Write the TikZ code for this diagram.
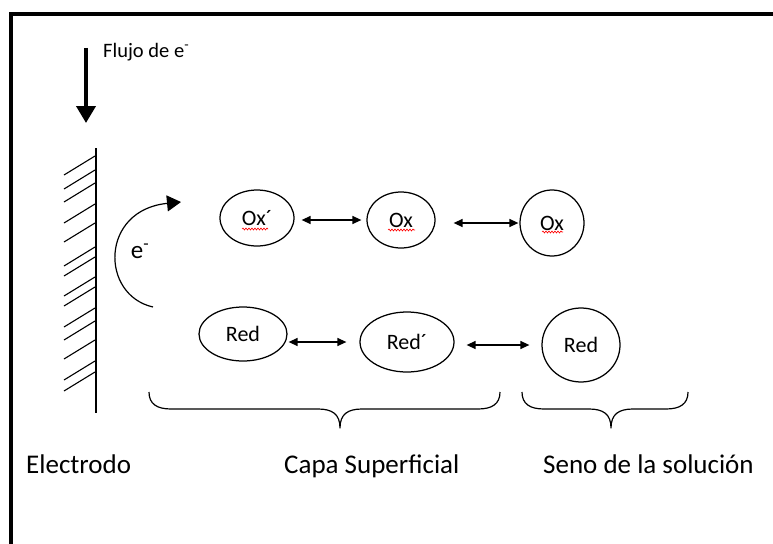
\documentclass[tikz,border=0pt]{standalone}
\usepackage{fontspec}
\setmainfont{Carlito}
\usetikzlibrary{shapes.geometric,arrows.meta,decorations.pathmorphing}

\newcommand{\layerbrace}[3]{%
\draw[brace line] (#1,392) .. controls (#1,404) and (#1+8,409) .. (#1+22,409)
  -- (#3-22,409) .. controls (#3-8,409) and (#3,414) .. (#3,428)
  .. controls (#3,414) and (#3+8,409) .. (#3+22,409)
  -- (#2-22,409) .. controls (#2-8,409) and (#2,404) .. (#2,392);}

\begin{document}
\begin{tikzpicture}[x=1pt, y=-1pt,
  species/.style={draw, ellipse, inner sep=0pt, line width=1.25pt, font=\fontsize{22}{25}\selectfont},
  dbl/.style={{Triangle[length=9pt,width=8pt]}-{Triangle[length=9pt,width=8pt]}, line width=1.3pt},
  region/.style={font=\fontsize{27}{31}\selectfont, anchor=base west, inner sep=0pt},
  brace line/.style={line width=1.2pt, line join=round},
  spell/.style={red, line width=0.6pt, decorate, decoration={snake, segment length=3pt, amplitude=1pt}},
  hatch/.style={line width=1.1pt}]
\useasboundingbox (0,0) rectangle (773,543);
\draw[line width=3.3pt] (11,560) -- (11,14) -- (790,14);

\coordinate (flow top) at (86,48);
\coordinate (flow tip) at (86,123);
\draw[line width=4pt, -{Triangle[length=17pt,width=19pt]}] (flow top) -- (flow tip);
\node[anchor=base west, inner sep=0pt, font=\fontsize{20.5}{23}\selectfont] (flow) at (103,57) {Flujo de e\textsuperscript{-}};

\draw[line width=2.6pt] (96,148) -- (96,413);
\foreach \y in {156,170,183,204,223,247,257,277,287,308,321,340,361,372}
  \draw[hatch] (95,\y) -- ++(-31,19);

\coordinate (jump start) at (153,307);
\coordinate (jump end) at (181,202);
\draw[line width=1.2pt, -{Triangle[length=14pt,width=16pt]}] (jump start) .. controls (100,295) and (100,210) .. (jump end);
\node[font=\fontsize{25}{29}\selectfont] (electron) at (140,251) {e\textsuperscript{-}};

\node[species, minimum width=74pt, minimum height=56pt] (oxa) at (257,218) {Ox´};
\node[species, minimum width=68pt, minimum height=56pt] (oxb) at (401,220) {Ox};
\node[species, minimum width=64pt, minimum height=66pt] (oxc) at (552,223) {Ox};
\node[species, minimum width=88pt, minimum height=54pt] (reda) at (243,334) {Red};
\node[species, minimum width=94pt, minimum height=60pt] (redb) at (407,342) {Red´};
\node[species, minimum width=78pt, minimum height=74pt] (redc) at (581,345) {Red};

\draw[spell] ([shift={(-15,11)}]oxa.center) -- ++(26,0);
\draw[spell] ([shift={(-13,10)}]oxb.center) -- ++(27,0);
\draw[spell] ([shift={(-10,9)}]oxc.center) -- ++(21,0);

\path
(oxa.east |- oxb.west) edge[dbl, shorten <=7pt, shorten >=5pt] (oxb.west)
(oxb.east |- oxc.west) edge[dbl, shorten <=18pt, shorten >=1pt] (oxc.west)
(reda.east |- redb.west) edge[dbl, shorten <=1pt, shorten >=13pt] (redb.west)
(redb.east |- redc.west) edge[dbl, shorten <=12pt, shorten >=12pt] (redc.west)
;

\layerbrace{149}{500}{340}
\layerbrace{522}{688}{611}

\node[region] (electrodo) at (26,473) {Electrodo};
\node[region] (capa) at (284,473) {Capa Superficial};
\node[region] (seno) at (543,473) {Seno de la solución};
\end{tikzpicture}
\end{document}
